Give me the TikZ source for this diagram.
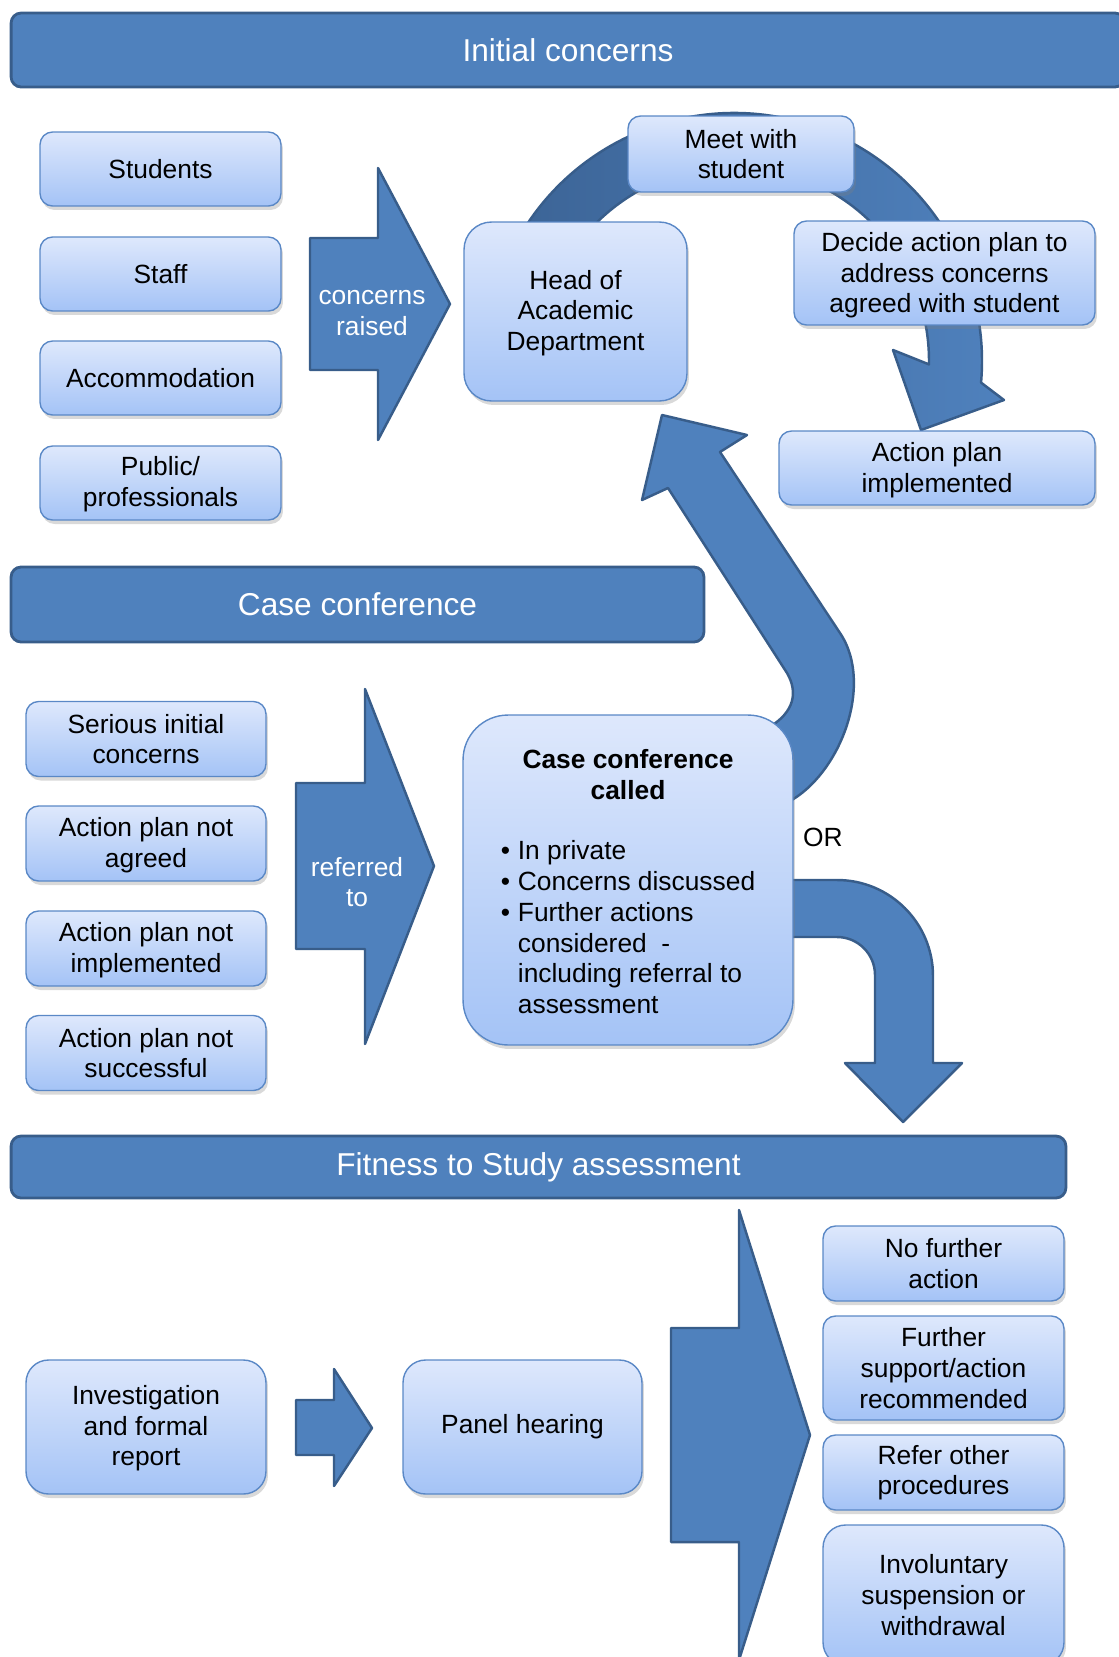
\documentclass[tikz,border=0pt]{standalone}
\usepackage{fontspec}
\setmainfont{Liberation Sans}
\usetikzlibrary{shadows}
\usetikzlibrary{calc}
\definecolor{hdrblue}{RGB}{79,129,189}
\definecolor{hdredge}{RGB}{56,93,138}
\definecolor{arcdark}{RGB}{60,100,150}
\definecolor{boxtop}{RGB}{222,232,252}
\definecolor{boxbot}{RGB}{164,195,246}
\definecolor{boxedge}{RGB}{90,136,198}

\begin{document}
\begin{tikzpicture}[x = 0.02cm, y = -0.02cm,
		header/.style = {draw=hdredge, line width=1.6pt, fill=hdrblue, rounded corners=0.2cm, text=white, inner sep=0pt, font=\fontsize{18}{21}\selectfont},
		blockarrow/.style = {draw=hdredge, line width=1.4pt, fill=hdrblue, line join=round},
		arrowtext/.style = {text=white, align=center, font=\fontsize{15}{17.4}\selectfont},
		box/.style = {draw=boxedge, line width=0.8pt, top color=boxtop, bottom color=boxbot, rounded corners=0.25cm, align=center, inner sep=0pt, font=\fontsize{15}{17.4}\selectfont, drop shadow={opacity=0.3, shadow xshift=0.04cm, shadow yshift=-0.08cm}},
		smallbox/.style = {box, minimum width=4.82cm, minimum height=1.48cm},
		casebox/.style = {box, minimum width=4.8cm, minimum height=1.5cm},
		resultbox/.style = {box, minimum width=4.82cm}
	]
	\useasboundingbox (0,0) rectangle (1119,1657);

	% Headers
	\node[header, minimum width=22.28cm, minimum height=1.48cm] (initial) at (568,50) {Initial concerns};
	\node[header, minimum width=13.86cm, minimum height=1.5cm] (casehdr) at (357.5,604.5) {Case conference};
	\node[header, minimum width=21.1cm, minimum height=1.24cm] (fitness) at (538.5,1167) {Fitness to Study assessment};

	% Block arrows
	\filldraw[blockarrow] (310,238) -- (378,238) -- (378,168) -- (450,304) -- (378,440) -- (378,370) -- (310,370) -- cycle;
	\node[arrowtext] (raised) at (372,313) {concerns\\raised};
	\filldraw[blockarrow] (296,783) -- (365,783) -- (365,689) -- (434,866) -- (365,1044) -- (365,949) -- (296,949) -- cycle;
	\node[arrowtext] (referred) at (357,882) {referred\\to};
	\filldraw[blockarrow] (296,1400) -- (334,1400) -- (334,1369) -- (372,1428) -- (334,1486) -- (334,1455) -- (296,1455) -- cycle;
	\filldraw[blockarrow] (671,1328) -- (739,1328) -- (739,1210) -- (810,1435) -- (739,1660) -- (739,1542) -- (671,1542) -- cycle;

	% Cycle arrow
	\coordinate (hub) at (734,361);
	\filldraw[blockarrow, left color=arcdark, right color=hdrblue] ($(hub)+(-155:248)$) arc[start angle=-155, end angle=5, radius=248] -- (1004,400) -- (921,430) -- (893,350) -- ($(hub)+(1:195)$) arc[start angle=1, end angle=-155, radius=195] -- cycle;

	% Back up and OR arrows
	\filldraw[blockarrow] (765,810) .. controls (830,800) and (879,691) .. (840,633) -- (720,452) -- (747,435) -- (662,415) -- (642,500) -- (668,488) -- (787,673) .. controls (798,692) and (795,712) .. (768,728) -- (740,745) -- cycle;
	\filldraw[blockarrow] (780,880) -- (837,880) arc[start angle=-90, end angle=0, radius=96] -- (933,1063) -- (962,1063) -- (903,1122) -- (845,1063) -- (875,1063) -- (875,975) arc[start angle=0, end angle=-90, radius=38] -- (780,937) -- cycle;
	\node[font=\fontsize{15}{17.4}\selectfont] (or) at (823,837) {OR};

	% Initial concerns
	\node[smallbox] (students) at (160.5,169) {Students};
	\node[smallbox] (staff) at (160.5,274) {Staff};
	\node[smallbox] (accom) at (160.5,378) {Accommodation};
	\node[smallbox] (public) at (160.5,483) {\rule{0pt}{12.5pt}Public/\\professionals};
	\node[box, minimum width=4.46cm, minimum height=3.58cm, rounded corners=0.55cm] (head) at (575.5,311.5) {\rule{0pt}{12.5pt}Head of\\Academic\\Department};
	\node[box, minimum width=4.52cm, minimum height=1.52cm] (meet) at (741,154) {Meet with\\student};
	\node[box, minimum width=6.02cm, minimum height=2.08cm] (decide) at (944.5,273) {\rule{0pt}{13.5pt}Decide action plan to\\address concerns\\agreed with student};
	\node[box, minimum width=6.32cm, minimum height=1.48cm] (implemented) at (937,468) {\rule{0pt}{13.5pt}Action plan\\implemented};

	% Case conference
	\node[casebox] (serious) at (146,739) {Serious initial\\concerns};
	\node[casebox] (notagreed) at (146,843.5) {\rule{0pt}{12.5pt}Action plan not\\agreed};
	\node[casebox] (notimpl) at (146,948.5) {\rule{0pt}{12.5pt}Action plan not\\implemented};
	\node[casebox] (notsucc) at (146,1053) {Action plan not\\successful};
	\node[box, minimum width=6.6cm, minimum height=6.6cm, rounded corners=0.9cm, font=\fontsize{15}{17.6}\selectfont] (called) at (628,880) {%
		\raisebox{-0.1cm}[\height][\depth]{\begin{tabular}{@{}l@{\hspace{4.5pt}}l@{}}
			\multicolumn{2}{c}{\textbf{Case conference}}\\
			\multicolumn{2}{c}{\textbf{called}}\\[16.5pt]
			\textbullet & In private\\
			\textbullet & Concerns discussed\\
			\textbullet & Further actions\\
			& considered\ \ -\\
			& including referral to\\
			& assessment
		\end{tabular}}};

	% Fitness to Study
	\node[box, minimum width=4.8cm, minimum height=2.68cm, rounded corners=0.45cm] (investigation) at (146,1427) {\rule{0pt}{12.5pt}Investigation\\and formal\\report};
	\node[box, minimum width=4.78cm, minimum height=2.68cm, rounded corners=0.45cm] (panel) at (522.5,1427) {Panel hearing};
	\node[resultbox, minimum height=1.5cm] (nofurther) at (943.5,1263.5) {No further\\action};
	\node[resultbox, minimum height=2.08cm] (support) at (943.5,1368) {Further\\support/action\\recommended};
	\node[resultbox, minimum height=1.5cm] (refer) at (943.5,1472.5) {Refer other\\procedures};
	\node[resultbox, minimum height=2.8cm, rounded corners=0.45cm] (suspension) at (943.5,1595) {Involuntary\\suspension or\\withdrawal};
\end{tikzpicture}
\end{document}
